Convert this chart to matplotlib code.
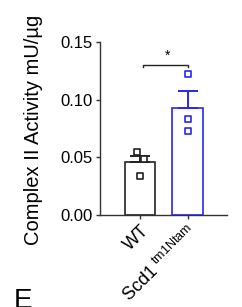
"""
Complex II activity, WT vs Scd1 tm1Ntam (bar + points, mean + SEM).
"""

import matplotlib
matplotlib.use("Agg")
import matplotlib.pyplot as plt

plt.rcParams["font.family"] = ["Liberation Sans", "DejaVu Sans"]
plt.rcParams["mathtext.default"] = "regular"

grupos = ["WT", "Scd1$^{\\ tm1Ntam}$"]
medias = [0.0455, 0.0925]
sem = [0.0060, 0.0150]
puntos = [
    [0.0544, 0.0483, 0.0338],
    [0.1220, 0.0830, 0.0731],
]
desplaz = [[-0.07, 0.09, 0.0], [0.0, 0.0, 0.0]]
colores = ["#222222", "#2828F0"]

yticks = [0.00, 0.05, 0.10, 0.15]


def generar_grafico():
    fig = plt.figure(figsize=(2.42, 3.07), dpi=100)
    ax = fig.add_axes([0.413, 0.300, 0.525, 0.563])

    for i, (m, e, c) in enumerate(zip(medias, sem, colores)):
        ax.bar(i, m, width=0.65, facecolor="white", edgecolor=c, linewidth=1.2, zorder=2)
        ax.errorbar(i, m, yerr=[[0], [e]], color=c, capsize=7, elinewidth=1.4,
                    capthick=1.4, zorder=3)
        xs = [i + d for d in desplaz[i]]
        ax.scatter(xs, puntos[i], marker="s", s=14, facecolors="white",
                   edgecolors=c, linewidths=1.2, zorder=4)

    # corchete de significancia
    y_br = 0.1305
    ax.plot([0.06, 0.06, 1.01, 1.01], [y_br - 0.0025, y_br, y_br, y_br - 0.0025],
            color="#222222", lw=1.0, clip_on=False)
    ax.text(0.57, 0.1385, "*", ha="center", va="center", fontsize=10)

    ax.set_xlim(-0.842, 1.83)
    ax.set_ylim(0, 0.15)
    ax.set_yticks(yticks)
    ax.set_yticklabels([f"{v:.2f}" for v in yticks], fontsize=12)
    ax.set_xticks(range(len(grupos)))
    ax.set_xticklabels(grupos, rotation=45, ha="right", rotation_mode="anchor",
                       fontsize=13)
    ax.tick_params(axis="both", length=3, width=1.0, color="#333333", pad=2)
    ax.set_ylabel("Complex II Activity mU/\u00b5g", fontsize=14.5)
    ax.yaxis.set_label_coords(-0.45, 0.49)

    for lado in ["top", "right"]:
        ax.spines[lado].set_visible(False)
    for lado in ["left", "bottom"]:
        ax.spines[lado].set_color("#333333")
        ax.spines[lado].set_linewidth(1.0)

    # letras de panel (recortadas en el original)
    fig.text(0.03, 1 - 4 / 307, "D", fontsize=20, fontweight="bold", va="bottom")
    fig.text(0.965, 1 - 4 / 307, "E", fontsize=20, fontweight="bold", va="bottom")
    fig.text(0.055, 1 - 288 / 307, "E", fontsize=20, va="top")

    fig.savefig("out.png", dpi=100)
    plt.close(fig)


if __name__ == "__main__":
    generar_grafico()
